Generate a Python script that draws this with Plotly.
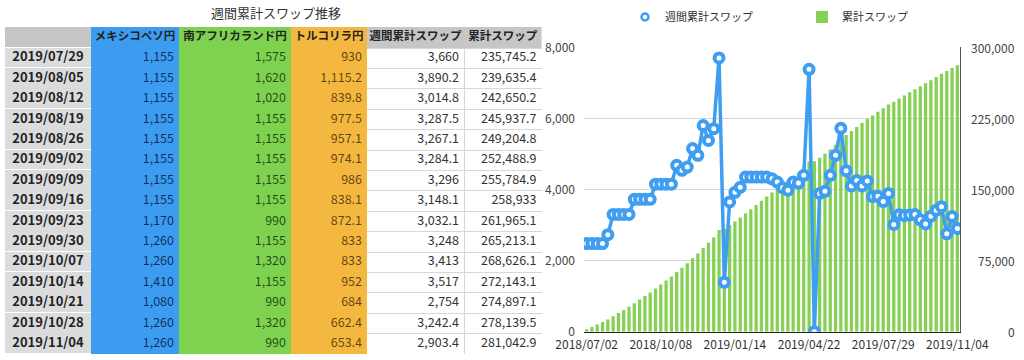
import plotly.graph_objects as go

FONT = "Noto Sans CJK JP"
BLUE = "#3f9ef2"
GREEN = "#86d155"
TBL_BLUE = "#3c9cf0"
TBL_GREEN = "#7fd150"
TBL_ORANGE = "#f4b840"
HDR_GREY = "#c6c6c6"
DATE_GREY = "#dcdcdc"

weeks = [
    "2018/07/02", "2018/07/09", "2018/07/16", "2018/07/23", "2018/07/30", "2018/08/06", "2018/08/13",
    "2018/08/20", "2018/08/27", "2018/09/03", "2018/09/10", "2018/09/17", "2018/09/24", "2018/10/01",
    "2018/10/08", "2018/10/15", "2018/10/22", "2018/10/29", "2018/11/05", "2018/11/12", "2018/11/19",
    "2018/11/26", "2018/12/03", "2018/12/10", "2018/12/17", "2018/12/24", "2018/12/31", "2019/01/07",
    "2019/01/14", "2019/01/21", "2019/01/28", "2019/02/04", "2019/02/11", "2019/02/18", "2019/02/25",
    "2019/03/04", "2019/03/11", "2019/03/18", "2019/03/25", "2019/04/01", "2019/04/08", "2019/04/15",
    "2019/04/22", "2019/04/29", "2019/05/06", "2019/05/13", "2019/05/20", "2019/05/27", "2019/06/03",
    "2019/06/10", "2019/06/17", "2019/06/24", "2019/07/01", "2019/07/08", "2019/07/15", "2019/07/22",
    "2019/07/29", "2019/08/05", "2019/08/12", "2019/08/19", "2019/08/26", "2019/09/02", "2019/09/09",
    "2019/09/16", "2019/09/23", "2019/09/30", "2019/10/07", "2019/10/14", "2019/10/21", "2019/10/28",
    "2019/11/04",
]

weekly_swap = [
    2480, 2480, 2480, 2480, 2730, 3300, 3300, 3300, 3300, 3725,
    3725, 3725, 3725, 4150, 4150, 4150, 4150, 4680, 4540, 4630,
    5150, 4960, 5800, 5380, 5710, 7700, 1390, 3650, 3920, 4060,
    4350, 4350, 4350, 4350, 4350, 4300, 4210, 4050, 3980, 4210,
    4180, 4400, 7380, 0, 3890, 3950, 4400, 4960, 5720, 4530,
    4100, 4250, 4100, 4240, 3800, 3810,
    3660, 3890.2, 3014.8, 3287.5, 3267.1, 3284.1, 3296, 3148.1, 3032.1, 3248,
    3413, 3517, 2754, 3242.4, 2903.4,
]

cumulative_swap = [
    2532, 5064, 7596, 10128, 12910, 16262, 19614, 22966, 26318, 30095,
    33872, 37649, 41426, 45628, 49830, 54032, 58234, 62966, 67558, 72240,
    77442, 82454, 88306, 93738, 99500, 107252, 108694, 112396, 116368, 120480,
    124882, 129284, 133686, 138088, 142490, 146842, 151104, 155206, 159238, 163500,
    167732, 172184, 179616, 179668, 183610, 187612, 192064, 197076, 202848, 207430,
    211582, 215884, 220036, 224328, 228180, 232042,
    235745.2, 239635.4, 242650.2, 245937.7, 249204.8, 252488.9, 255784.9, 258933, 261965.1, 265213.1,
    268626.1, 272143.1, 274897.1, 278139.5, 281042.9,
]

tick_weeks = ["2018/07/02", "2018/10/08", "2019/01/14", "2019/04/22", "2019/07/29", "2019/11/04"]
right_ticks = [0, 75000, 150000, 225000, 300000]

table_title = "週間累計スワップ推移"
table_header = ["", "メキシコペソ円", "南アフリカランド円", "トルコリラ円", "週間累計スワップ", "累計スワップ"]
table_dates = weeks[56:]
mxn_swap = [1155, 1155, 1155, 1155, 1155, 1155, 1155, 1155, 1170, 1260, 1260, 1410, 1080, 1260, 1260]
zar_swap = [1575, 1620, 1020, 1155, 1155, 1155, 1155, 1155, 990, 1155, 1320, 1155, 990, 1320, 990]
try_swap = [930, 1115.2, 839.8, 977.5, 957.1, 974.1, 986, 838.1, 872.1, 833, 833, 952, 684, 662.4, 653.4]
table_weekly = weekly_swap[56:]
table_cumulative = cumulative_swap[56:]

W, H = 1024, 360

# ---- table geometry (layout, in pixels) ----
TBL_LEFT, TBL_TOP = 5, 27
col_edges = [0, 86, 174, 286, 362, 459, 536.5]
HEADER_H, ROW_H = 21, 20.4
n_rows = len(table_dates)
row_edges = [0] + [HEADER_H + ROW_H * k for k in range(n_rows + 1)]
tbl_height = row_edges[-1]
row_mid = [HEADER_H + ROW_H * (k + 0.5) for k in range(n_rows)]
col_mid = [(col_edges[i] + col_edges[i + 1]) / 2 for i in range(6)]
PAD = 5


def fmt(v):
    s = f"{v:,.1f}"
    return s[:-2] if s.endswith(".0") else s


# colour codes: 0 header grey, 1 blue, 2 green, 3 orange, 4 date grey
cscale = [[0, HDR_GREY], [0.125, HDR_GREY], [0.125, TBL_BLUE], [0.375, TBL_BLUE],
          [0.375, TBL_GREEN], [0.625, TBL_GREEN], [0.625, TBL_ORANGE], [0.875, TBL_ORANGE],
          [0.875, DATE_GREY], [1, DATE_GREY]]
nan = float("nan")
z_main = [[1, 2, 3, 0, 0]] + [[1, 2, 3, nan, nan] for _ in range(n_rows)]
z_date = [[0]] + [[4] for _ in range(n_rows)]

fig = go.Figure()

fig.add_trace(go.Heatmap(x=col_edges[1:], y=row_edges, z=z_main, colorscale=cscale, zmin=0, zmax=4,
                         showscale=False, hoverinfo="skip", xaxis="x3", yaxis="y3", showlegend=False))
fig.add_trace(go.Heatmap(x=col_edges[:2], y=row_edges, z=z_date, colorscale=cscale, zmin=0, zmax=4,
                         showscale=False, hoverinfo="skip", ygap=1, xaxis="x3", yaxis="y3",
                         showlegend=False))

# header text
fig.add_trace(go.Scatter(x=col_mid, y=[HEADER_H / 2] * 6, mode="text",
                         text=[f"<b>{h}</b>" if h else "" for h in table_header],
                         textposition="middle center",
                         textfont=dict(family=FONT, size=11.5, color="#222"),
                         xaxis="x3", yaxis="y3", showlegend=False, hoverinfo="skip"))
# date column
fig.add_trace(go.Scatter(x=[col_mid[0]] * n_rows, y=row_mid, mode="text",
                         text=[f"<b>{d}</b>" for d in table_dates], textposition="middle center",
                         textfont=dict(family=FONT, size=13, color="#222"),
                         xaxis="x3", yaxis="y3", showlegend=False, hoverinfo="skip"))
# numeric columns
num_cols = [mxn_swap, zar_swap, try_swap, table_weekly, table_cumulative]
num_colors = ["rgba(0,0,40,0.72)", "rgba(0,20,0,0.72)", "rgba(40,20,0,0.72)", "#333", "#333"]
for ci, (vals, colr) in enumerate(zip(num_cols, num_colors), start=1):
    fig.add_trace(go.Scatter(x=[col_edges[ci + 1] - PAD] * n_rows, y=row_mid, mode="text",
                             text=[fmt(v) for v in vals], textposition="middle left",
                             textfont=dict(family=FONT, size=12.5, color=colr),
                             xaxis="x3", yaxis="y3", showlegend=False, hoverinfo="skip",
                             cliponaxis=False))

# ---- chart ----
fig.add_trace(go.Bar(
    x=weeks, y=cumulative_swap, name="累計スワップ", marker=dict(color=GREEN, line=dict(width=0)),
    xaxis="x", yaxis="y", legendrank=2,
))
fig.add_trace(go.Scatter(
    x=weeks, y=weekly_swap, mode="lines+markers", name="週間累計スワップ", xaxis="x", yaxis="y2",
    line=dict(color=BLUE, width=3.5),
    marker=dict(symbol="circle", size=9, color="white", line=dict(color=BLUE, width=4)),
    showlegend=False,
))
fig.add_trace(go.Scatter(
    x=[None], y=[None], mode="markers", name="週間累計スワップ", xaxis="x", yaxis="y2",
    marker=dict(symbol="circle", size=7, color="white", line=dict(color=BLUE, width=2.5)),
    legendrank=1,
))

annotations = [dict(text=table_title, x=276 / W, y=1 - 13 / H, xref="paper", yref="paper",
                    xanchor="center", yanchor="middle", showarrow=False,
                    font=dict(family=FONT, size=13, color="#333"))]
for v in right_ticks:
    annotations.append(dict(text=f"{v:,}", x=1017 / W, y=v, xref="paper", yref="y",
                            xanchor="right", yanchor="middle", showarrow=False,
                            font=dict(family=FONT, size=12, color="#444")))

no_auto = dict(automargin=False)
fig.update_layout(
    width=W, height=H,
    margin=dict(l=0, r=0, t=0, b=0, pad=0, autoexpand=False),
    paper_bgcolor="white", plot_bgcolor="white",
    font=dict(family=FONT, size=12, color="#333"),
    bargap=0.38,
    xaxis=dict(domain=[584 / W, 960 / W], type="category", range=[-0.5, 70.5],
               tickmode="array", tickvals=tick_weeks, ticktext=tick_weeks,
               showline=True, linecolor="#222", linewidth=1, showgrid=False, ticks="",
               ticklabelstandoff=2, tickfont=dict(size=12, color="#333"), anchor="y", **no_auto),
    yaxis=dict(domain=[(H - 331.7) / H, (H - 47.3) / H], range=[0, 300000], side="right",
               tickmode="linear", tick0=0, dtick=75000, showticklabels=False,
               showgrid=True, gridcolor="#d6d6d6", gridwidth=1, zeroline=False,
               showline=True, linecolor="#555", linewidth=1, anchor="x", **no_auto),
    yaxis2=dict(overlaying="y", side="left", range=[0, 8000], tickmode="linear", tick0=0,
                dtick=2000, tickformat=",d", showgrid=False, zeroline=False, showline=False,
                ticks="", ticklabelstandoff=8, tickfont=dict(size=12, color="#444"), anchor="x",
                **no_auto),
    xaxis3=dict(domain=[TBL_LEFT / W, (TBL_LEFT + col_edges[-1]) / W], range=[0, col_edges[-1]],
                anchor="y3", showticklabels=False, ticks="", zeroline=False, showline=False,
                tickmode="array", tickvals=[col_edges[-2], col_edges[-1]],
                showgrid=True, gridcolor="#d8d8d8", gridwidth=1, fixedrange=True, **no_auto),
    yaxis3=dict(domain=[1 - (TBL_TOP + tbl_height) / H, 1 - TBL_TOP / H], range=[tbl_height, 0],
                anchor="x3", showticklabels=False, ticks="", zeroline=False, showline=False,
                tickmode="array", tickvals=row_edges[1:],
                showgrid=True, gridcolor="#d8d8d8", gridwidth=1, fixedrange=True, **no_auto),
    legend=dict(orientation="h", x=625 / W, y=1 - 17 / H, xanchor="left", yanchor="middle",
                font=dict(size=11, color="#333"), entrywidth=132, entrywidthmode="pixels",
                bgcolor="rgba(0,0,0,0)"),
    showlegend=True,
    annotations=annotations,
)

fig.write_html("out.html", config={"displayModeBar": False},
               post_script="document.body.style.margin='0px';")
